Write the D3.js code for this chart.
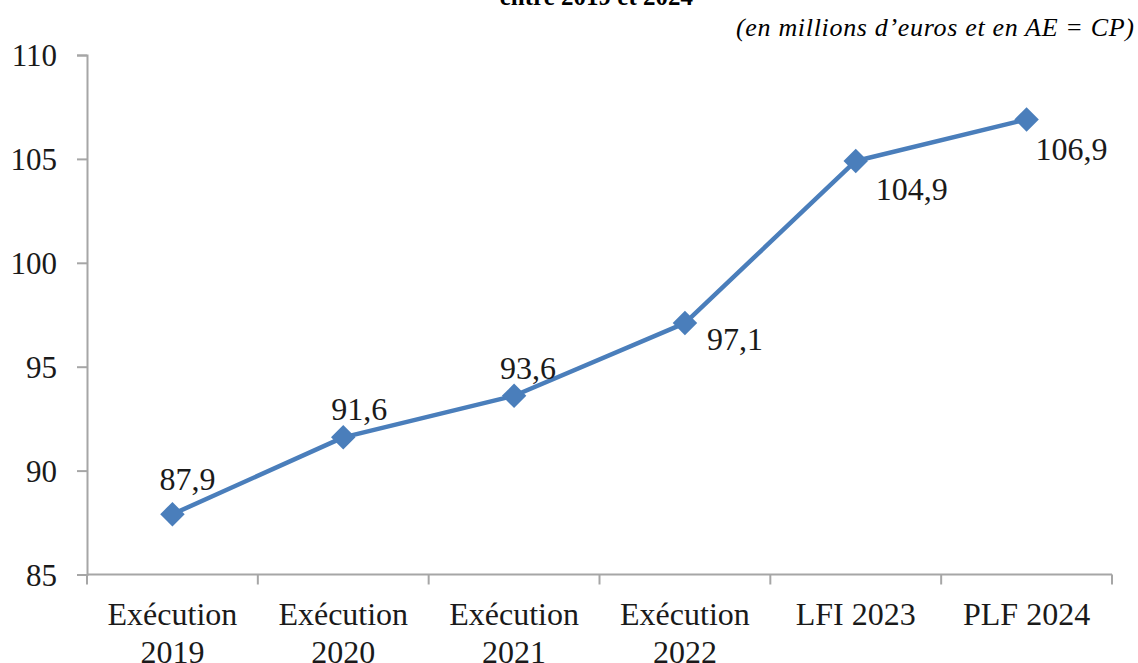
<!doctype html>
<html lang="fr">
<head>
  <meta charset="utf-8">
  <title>Évolution des crédits entre 2019 et 2024</title>
</head>
<style>
body {
	margin: 0;
	background: #fff;
	font-family: "Liberation Serif", serif;
}
</style>
<body>
  <script src="https://d3js.org/d3.v7.min.js"></script>
  <script>

	// Data
	var categories = [["Exécution", "2019"], ["Exécution", "2020"], ["Exécution", "2021"], ["Exécution", "2022"], ["LFI 2023"], ["PLF 2024"]];
	var values = [87.9, 91.6, 93.6, 97.1, 104.9, 106.9];
	var valueLabels = ["87,9", "91,6", "93,6", "97,1", "104,9", "106,9"];
	var yTicks = [85, 90, 95, 100, 105, 110];

	var width = 1138, height = 663;
	var blue = "#4a7ebb", grey = "#a6a6a6";

	var svg = d3.select("body").append("svg")
		.attr("width", width)
		.attr("height", height);

	var x = d3.scaleBand()
		.domain(d3.range(categories.length))
		.range([87, 1112]);

	var y = d3.scaleLinear()
		.domain([85, 110])
		.range([574.5, 55]);

	// Title (cut off at the top in the source) and unit
	svg.append("text")
		.attr("x", 693)
		.attr("y", 5)
		.attr("text-anchor", "end")
		.attr("font-weight", "bold")
		.attr("font-size", "25px")
		.text("entre 2019 et 2024");

	svg.append("text")
		.attr("x", 1134)
		.attr("y", 36)
		.attr("text-anchor", "end")
		.attr("font-style", "italic")
		.attr("font-size", "26px")
		.attr("textLength", 398)
		.attr("lengthAdjust", "spacing")
		.text("(en millions d\u2019euros et en AE = CP)");

	// Y axis
	var yAxis = svg.append("g")
		.attr("transform", "translate(87,0)")
		.call(d3.axisLeft(y).tickValues(yTicks).tickSize(10).tickPadding(20).tickFormat(d3.format("d")));

	// X axis with ticks between categories
	var xAxis = svg.append("g")
		.attr("transform", "translate(0," + y(85) + ")");

	xAxis.append("line")
		.attr("x1", x.range()[0])
		.attr("x2", x.range()[1])
		.attr("stroke", grey)
		.attr("stroke-width", 2);

	xAxis.selectAll(".xtick")
		.data(d3.range(categories.length + 1))
		.join("line")
		.classed("xtick", true)
		.attr("x1", function (d) { return x.range()[0] + d * x.step(); })
		.attr("x2", function (d) { return x.range()[0] + d * x.step(); })
		.attr("y1", 0)
		.attr("y2", 10)
		.attr("stroke", grey)
		.attr("stroke-width", 2);

	xAxis.selectAll(".xlabel")
		.data(categories)
		.join("text")
		.classed("xlabel", true)
		.attr("x", function (d, i) { return x(i) + x.bandwidth() / 2; })
		.attr("y", 50)
		.attr("text-anchor", "middle")
		.attr("font-size", "32px")
		.attr("fill", "#1a1a1a")
		.each(function (d) {
			var t = d3.select(this);
			d.forEach(function (line, k) {
				t.append("tspan")
					.attr("x", t.attr("x"))
					.attr("dy", k === 0 ? 0 : 38)
					.text(line);
			});
		});

	yAxis.select(".domain").attr("stroke", grey).attr("stroke-width", 2);
	yAxis.selectAll(".tick line").attr("stroke", grey).attr("stroke-width", 2);
	yAxis.selectAll(".tick text")
		.attr("font-family", "Liberation Serif, serif")
		.attr("font-size", "31px")
		.attr("fill", "#1a1a1a")
		.attr("dy", "0.34em");

	// Line
	var line = d3.line()
		.x(function (d, i) { return x(i) + x.bandwidth() / 2; })
		.y(function (d) { return y(d); });

	svg.append("path")
		.datum(values)
		.attr("d", line)
		.attr("fill", "none")
		.attr("stroke", blue)
		.attr("stroke-width", 4.5)
		.attr("stroke-linejoin", "round");

	// Diamond markers
	svg.selectAll(".marker")
		.data(values)
		.join("path")
		.classed("marker", true)
		.attr("d", d3.symbol().type(d3.symbolSquare).size(300))
		.attr("transform", function (d, i) {
			return "translate(" + (x(i) + x.bandwidth() / 2) + "," + y(d) + ") rotate(45)";
		})
		.attr("fill", blue);

	// Value labels: first three above the point, last three below right
	var labelOffsets = [[15, -24], [16, -17], [14, -17], [22, 27], [20, 39], [9, 41]];
	var labelAnchors = ["middle", "middle", "middle", "start", "start", "start"];

	svg.selectAll(".vlabel")
		.data(values)
		.join("text")
		.classed("vlabel", true)
		.attr("x", function (d, i) { return x(i) + x.bandwidth() / 2 + labelOffsets[i][0]; })
		.attr("y", function (d, i) { return y(d) + labelOffsets[i][1]; })
		.attr("text-anchor", function (d, i) { return labelAnchors[i]; })
		.attr("font-size", "32px")
		.attr("fill", "#1a1a1a")
		.text(function (d, i) { return valueLabels[i]; });

  </script>
</body>
</html>
